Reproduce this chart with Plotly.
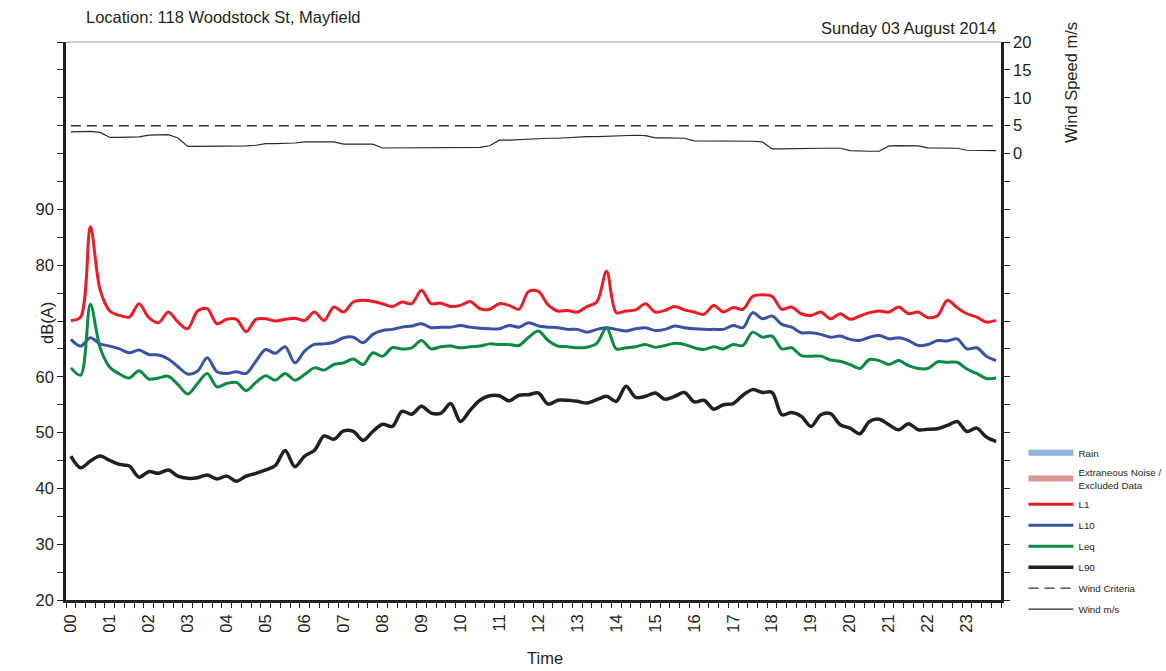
import plotly.graph_objects as go

# 15-minute intervals across the day, plotted in hours
n_intervals = 96
hours = [i * 0.25 for i in range(n_intervals)]
hour_ticks = list(range(24))
hour_labels = [f"{h:02d}" for h in hour_ticks]

# Statistical noise levels, dB(A)
L1 = [70.1, 70.7, 86.9, 75.6, 71.8, 71.0, 70.7, 73.1, 70.6, 69.7, 71.6, 69.8,
      68.6, 71.8, 72.2, 69.5, 70.3, 70.3, 68.1, 70.3, 70.4, 70.0, 70.3, 70.5,
      70.1, 71.6, 70.1, 72.5, 71.6, 73.4, 73.7, 73.5, 73.1, 72.6, 73.4, 73.1,
      75.5, 73.1, 73.2, 72.6, 72.8, 73.5, 72.2, 72.1, 73.1, 72.8, 72.1, 75.3,
      75.3, 72.9, 71.8, 71.9, 71.6, 72.6, 73.4, 78.9, 71.5, 71.8, 72.0, 73.1,
      71.6, 71.9, 72.6, 72.0, 71.6, 71.2, 72.8, 71.6, 72.4, 72.1, 74.4, 74.7,
      74.4, 72.1, 72.5, 71.3, 71.0, 71.6, 70.4, 71.3, 70.3, 70.9, 71.5, 71.8,
      71.6, 72.5, 71.3, 71.6, 70.6, 71.0, 73.7, 72.4, 71.3, 70.7, 69.8, 70.1]

L10 = [66.7, 65.5, 67.0, 65.9, 65.5, 65.0, 64.3, 64.8, 64.0, 63.9, 63.2, 61.8,
       60.5, 61.0, 63.4, 60.9, 60.6, 60.9, 60.6, 62.8, 64.9, 64.2, 65.4, 62.5,
       64.6, 65.8, 65.9, 66.2, 67.0, 67.1, 66.1, 67.6, 68.3, 68.5, 68.9, 69.1,
       69.5, 68.8, 68.9, 68.9, 69.2, 68.9, 68.7, 68.6, 68.6, 69.2, 68.9, 69.7,
       69.1, 68.9, 68.8, 68.5, 68.5, 68.0, 68.5, 68.8, 68.5, 68.2, 68.6, 68.8,
       68.3, 68.5, 69.1, 68.8, 68.6, 68.5, 68.5, 68.5, 69.2, 68.8, 71.5, 70.4,
       70.9, 69.4, 68.9, 67.9, 67.9, 67.6, 67.1, 67.3, 66.7, 66.5, 67.1, 67.4,
       66.8, 67.0, 66.5, 65.6, 65.8, 66.5, 66.4, 66.8, 65.0, 65.2, 63.7, 62.9]

Leq = [61.6, 60.3, 73.0, 65.2, 61.7, 60.5, 59.8, 61.1, 59.6, 59.8, 60.1, 58.6,
       56.9, 58.8, 60.6, 58.2, 58.8, 59.0, 57.5, 59.0, 60.2, 59.4, 60.6, 59.4,
       60.4, 61.6, 61.2, 62.2, 62.5, 63.2, 62.2, 64.3, 63.7, 65.2, 65.0, 65.2,
       66.5, 65.0, 65.4, 65.5, 65.2, 65.4, 65.5, 65.9, 65.8, 65.8, 65.6, 67.1,
       68.2, 66.5, 65.5, 65.4, 65.2, 65.3, 66.0, 68.8, 65.0, 65.2, 65.4, 65.8,
       65.3, 65.6, 66.0, 65.8, 65.2, 64.9, 65.4, 65.0, 65.8, 65.6, 68.0, 67.1,
       67.3, 65.0, 65.2, 63.8, 63.7, 63.7, 63.0, 62.8, 62.2, 61.5, 63.1, 62.9,
       62.2, 62.9, 62.0, 61.5, 61.5, 62.7, 62.6, 62.6, 61.4, 60.6, 59.7, 59.8]

L90 = [45.8, 43.7, 44.9, 45.8, 45.0, 44.3, 44.0, 42.0, 43.0, 42.7, 43.3, 42.2,
       41.8, 41.9, 42.4, 41.7, 42.2, 41.3, 42.2, 42.7, 43.3, 44.1, 46.8, 43.9,
       45.8, 46.8, 49.4, 48.8, 50.3, 50.2, 48.6, 50.2, 51.5, 51.1, 53.8, 53.3,
       54.7, 53.5, 53.5, 55.2, 52.0, 54.0, 55.8, 56.6, 56.6, 55.7, 56.7, 56.8,
       57.1, 55.1, 55.8, 55.8, 55.6, 55.3, 55.9, 56.5, 55.6, 58.3, 56.3, 56.5,
       57.1, 56.0, 56.5, 57.2, 55.5, 55.8, 54.2, 55.0, 55.2, 56.7, 57.7, 57.2,
       57.2, 53.2, 53.6, 52.9, 51.1, 53.2, 53.4, 51.4, 50.8, 49.8, 52.0, 52.4,
       51.4, 50.5, 51.6, 50.5, 50.6, 50.7, 51.3, 52.0, 50.2, 50.8, 49.2, 48.4]

# Wind speed, m/s
wind = [3.9, 3.9, 4.0, 3.8, 2.9, 2.9, 2.9, 3.0, 3.3, 3.4, 3.4, 2.8,
        1.3, 1.3, 1.3, 1.3, 1.3, 1.3, 1.4, 1.5, 1.8, 1.8, 1.8, 1.9,
        2.1, 2.1, 2.1, 2.1, 1.7, 1.7, 1.7, 1.7, 1.0, 1.0, 1.0, 1.1,
        1.1, 1.1, 1.1, 1.1, 1.1, 1.1, 1.1, 1.4, 2.4, 2.4, 2.5, 2.6,
        2.75, 2.75, 2.75, 2.87, 3.05, 3.05, 3.05, 3.11, 3.29, 3.29, 3.29, 3.23,
        2.81, 2.81, 2.81, 2.75, 2.27, 2.27, 2.27, 2.21, 2.21, 2.21, 2.21, 2.09,
        0.84, 0.84, 0.90, 0.96, 0.96, 0.96, 0.96, 0.96, 0.54, 0.42, 0.42, 0.42,
        1.37, 1.43, 1.43, 1.37, 1.01, 0.96, 0.96, 0.96, 0.60, 0.54, 0.54, 0.54]
wind_criteria = 5.0

db_ticks = list(range(20, 121, 5))
db_labels = [str(v) if v % 10 == 0 and v <= 90 else "" for v in db_ticks]
wind_ticks = list(range(-80, 21, 5))
wind_labels = [str(v) if v >= 0 else "" for v in wind_ticks]

FONT = "Liberation Sans, Arial, sans-serif"
INK = "#231f20"
FS = 16.5

fig = go.Figure()

# legend-only entries for rain and excluded periods
fig.add_trace(go.Scatter(x=[None], y=[None], mode="lines", name="Rain",
                         legendgroup="rain",
                         line=dict(color="#8db4da", width=6)))
fig.add_trace(go.Scatter(x=[None], y=[None], mode="lines",
                         name="Extraneous Noise /<br>Excluded Data",
                         legendgroup="extr",
                         line=dict(color="#d99694", width=6)))

series = [("L1", L1, "#ed1c24", 3), ("L10", L10, "#3953a4", 3),
          ("Leq", Leq, "#0a8a42", 3), ("L90", L90, INK, 3.5)]
for name, vals, color, w in series:
    fig.add_trace(go.Scatter(x=hours, y=vals, mode="lines", name=name,
                             legendgroup=name,
                             line=dict(color=color, width=w, shape="spline",
                                       smoothing=0.9)))

fig.add_trace(go.Scatter(x=hours, y=[wind_criteria] * len(hours), mode="lines",
                         name="Wind Criteria", legendgroup="wc", yaxis="y2",
                         line=dict(color="#333333", width=1.4, dash="10px,6px")))
fig.add_trace(go.Scatter(x=hours, y=wind, mode="lines", name="Wind m/s",
                         legendgroup="wind", yaxis="y2",
                         line=dict(color="#2a2a2a", width=1.2)))

fig.update_layout(
    width=1166, height=671,
    margin=dict(l=66, r=165, t=42, b=71, autoexpand=False),
    paper_bgcolor="white", plot_bgcolor="white",
    font=dict(family=FONT, size=FS, color=INK),
    showlegend=True,
    legend=dict(x=1.024, y=0.29, xanchor="left", yanchor="top",
                font=dict(family=FONT, size=9.8, color=INK),
                traceorder="grouped", tracegroupgap=2,
                bgcolor="rgba(0,0,0,0)", itemwidth=45),
    xaxis=dict(range=[-0.125, 23.875], tickmode="array", tickvals=hour_ticks,
               ticktext=hour_labels, tickangle=-90, ticks="outside", ticklen=5,
               tickcolor="rgba(0,0,0,0)",
               minor=dict(tickmode="array",
                          tickvals=[k * 0.25 - 0.125 for k in range(97)],
                          ticks="outside", ticklen=5, tickwidth=1, tickcolor=INK),
               showline=True, linecolor=INK, linewidth=2.5, showgrid=False,
               zeroline=False, tickfont=dict(size=FS)),
    yaxis=dict(range=[20, 120], tickmode="array", tickvals=db_ticks,
               ticktext=db_labels, ticks="outside", ticklen=6, tickwidth=1,
               tickcolor=INK, showline=True, linecolor=INK, linewidth=2.5,
               showgrid=False, zeroline=False, tickfont=dict(size=FS)),
    yaxis2=dict(range=[-80, 20], overlaying="y", side="right", tickmode="array",
                tickvals=wind_ticks, ticktext=wind_labels, ticks="outside",
                ticklen=6, tickwidth=1, tickcolor=INK, showline=True,
                linecolor=INK, linewidth=2.5, showgrid=False, zeroline=False,
                tickfont=dict(size=FS)),
    shapes=[dict(type="line", xref="paper", yref="paper", x0=0, x1=1, y0=1, y1=1,
                 line=dict(color="#9a9a9a", width=1))],
    annotations=[
        dict(text="Location: 118 Woodstock St, Mayfield", xref="paper",
             yref="paper", x=(84 - 66) / 935, y=1 + (42 - 17) / 558,
             xanchor="left", yanchor="middle", showarrow=False,
             font=dict(size=FS)),
        dict(text="Sunday 03 August 2014", xref="paper", yref="paper",
             x=(998 - 66) / 935, y=1 + (42 - 28) / 558, xanchor="right",
             yanchor="middle", showarrow=False, font=dict(size=FS)),
        dict(text="Wind Speed m/s", xref="paper", yref="paper",
             x=(1071 - 66) / 935, y=(600 - 83) / 558, textangle=-90,
             xanchor="center", yanchor="middle", showarrow=False,
             font=dict(size=FS)),
        dict(text="dB(A)", xref="paper", yref="paper",
             x=(47 - 66) / 935, y=(600 - 323) / 558, textangle=-90,
             xanchor="center", yanchor="middle", showarrow=False,
             bgcolor="white", font=dict(size=FS)),
        dict(text="Time", xref="paper", yref="paper",
             x=(545 - 66) / 935, y=-(658 - 600) / 558,
             xanchor="center", yanchor="middle", showarrow=False,
             font=dict(size=FS)),
    ],
)

fig.write_html("out.html")
